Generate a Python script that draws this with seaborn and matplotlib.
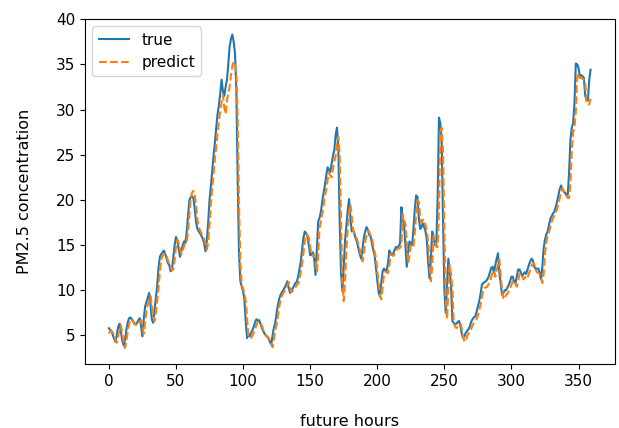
import matplotlib
matplotlib.use("Agg")
import matplotlib.pyplot as plt
import numpy as np
import seaborn as sns

# PM2.5 concentration per hour
true_vals = [
    5.8, 5.6, 5.5, 5.0, 4.6, 4.3, 5.2, 6.0, 6.3, 5.4, 4.4, 3.9, 4.5, 5.6, 6.4, 6.9, 7.0, 6.8, 6.6, 6.3,
    6.2, 6.4, 6.7, 6.9, 6.0, 4.9, 6.8, 8.2, 8.7, 9.2, 9.7, 8.5, 6.8, 6.4, 7.8, 9.2, 10.5, 12.5, 13.7, 14.0,
    14.2, 14.4, 14.0, 13.5, 13.0, 12.8, 12.1, 12.3, 13.6, 15.0, 15.9, 15.5, 14.6, 13.7, 14.3, 15.0, 15.4, 15.2, 16.5, 18.2,
    20.0, 20.3, 20.4, 20.2, 19.0, 17.5, 16.8, 16.5, 16.3, 16.0, 15.7, 15.2, 14.3, 15.5, 17.5, 20.0, 21.5, 23.2, 24.9, 26.3,
    28.0, 29.5, 30.5, 31.8, 33.3, 32.0, 31.5, 32.5, 33.3, 35.0, 37.0, 37.8, 38.3, 37.5, 36.2, 32.0, 22.0, 14.0, 11.0, 10.4,
    9.9, 9.0, 6.5, 4.7, 5.2, 4.9, 5.3, 5.6, 6.0, 6.5, 6.8, 6.6, 6.7, 6.3, 5.8, 5.5, 5.2, 5.0, 4.9, 4.7,
    4.3, 4.0, 5.0, 5.9, 6.4, 7.5, 8.4, 9.1, 9.5, 9.8, 10.0, 10.3, 10.6, 11.0, 10.3, 9.7, 10.0, 10.2, 10.5, 10.8,
    10.9, 11.5, 12.3, 13.2, 14.5, 15.8, 16.5, 16.3, 16.0, 15.0, 13.9, 13.9, 14.2, 13.5, 11.7, 14.5, 17.6, 18.0, 18.7, 19.8,
    20.8, 21.6, 22.7, 23.6, 23.3, 23.1, 24.0, 24.9, 25.5, 27.2, 28.0, 25.6, 17.6, 12.0, 9.9, 12.5, 15.5, 17.2, 18.8, 20.1,
    18.0, 16.5, 16.8, 16.2, 15.7, 15.3, 14.6, 14.0, 13.5, 14.5, 15.8, 16.5, 17.0, 16.7, 16.1, 16.0, 15.2, 14.5, 13.9, 12.5,
    11.0, 9.8, 9.3, 10.8, 12.1, 12.4, 12.2, 12.1, 13.0, 14.4, 14.1, 13.9, 14.1, 14.5, 14.8, 14.7, 14.9, 15.2, 19.2, 18.0,
    17.2, 15.0, 12.6, 14.2, 15.4, 15.2, 15.0, 16.8, 19.0, 20.5, 20.3, 18.0, 16.8, 17.0, 17.4, 17.0, 16.5, 15.5, 13.0, 11.3,
    13.5, 16.5, 15.8, 15.0, 15.0, 20.1, 29.1, 28.5, 26.7, 18.0, 10.2, 7.5, 10.5, 13.5, 12.0, 10.6, 6.6, 6.4, 6.2, 6.3,
    6.5, 6.6, 6.0, 5.2, 4.7, 4.9, 5.3, 5.5, 5.7, 6.0, 6.5, 6.8, 7.0, 7.1, 7.6, 8.2, 8.8, 9.6, 10.6, 10.8,
    10.9, 11.0, 11.2, 11.5, 12.0, 12.5, 12.6, 11.9, 12.8, 13.5, 14.1, 12.0, 10.8, 9.5, 9.7, 10.0, 10.0, 10.3, 10.6, 11.0,
    11.5, 11.5, 11.0, 10.8, 11.5, 12.3, 12.3, 12.0, 11.6, 11.8, 12.0, 11.8, 12.3, 12.8, 13.2, 13.5, 13.3, 12.6, 12.4, 12.4,
    12.4, 12.0, 11.2, 12.5, 14.6, 15.6, 16.2, 16.5, 17.2, 17.9, 18.2, 18.5, 18.7, 19.2, 19.8, 20.5, 21.2, 21.6, 21.2, 20.9,
    20.8, 20.5, 20.6, 23.1, 26.7, 28.0, 28.5, 30.7, 35.1, 35.0, 34.6, 33.7, 33.8, 33.7, 33.5, 31.5, 31.1, 31.0, 33.3, 34.4,
]

pred_vals = [
    5.2, 5.5, 5.4, 5.3, 4.9, 4.5, 4.2, 5.0, 5.8, 6.1, 5.2, 4.2, 3.6, 4.3, 5.4, 6.2, 6.7, 6.8, 6.6, 6.4,
    6.2, 6.1, 6.3, 6.5, 6.7, 5.9, 5.2, 6.4, 7.8, 8.4, 8.9, 9.4, 8.4, 7.0, 6.6, 7.5, 8.9, 10.2, 12.1, 13.4,
    13.8, 14.0, 14.1, 13.8, 13.3, 12.9, 12.6, 12.2, 12.3, 13.4, 14.8, 15.6, 15.3, 14.6, 14.0, 14.3, 14.9, 15.3, 15.3, 16.5,
    18.3, 20.2, 20.8, 21.0, 20.6, 19.4, 17.8, 17.0, 16.6, 16.3, 16.0, 15.7, 15.2, 14.5, 15.3, 17.2, 19.6, 21.2, 22.9, 24.5,
    25.8, 27.4, 28.8, 29.8, 30.8, 31.6, 30.2, 29.5, 31.0, 31.8, 32.5, 33.8, 34.8, 35.3, 35.0, 34.0, 29.0, 19.5, 13.0, 10.6,
    10.2, 9.7, 8.8, 6.8, 4.9, 4.8, 4.7, 5.0, 5.3, 5.7, 6.2, 6.5, 6.4, 6.4, 6.1, 5.6, 5.3, 5.0, 4.8, 4.6,
    4.5, 4.1, 3.7, 4.6, 5.6, 6.2, 7.2, 8.2, 9.0, 9.4, 9.7, 9.9, 10.2, 10.5, 10.9, 10.3, 9.8, 9.9, 10.1, 10.3,
    10.6, 10.7, 11.2, 12.0, 12.9, 14.1, 15.4, 16.2, 16.1, 15.8, 14.9, 13.9, 13.8, 14.0, 13.4, 12.0, 14.0, 16.9, 17.6, 18.4,
    19.4, 20.4, 21.2, 22.2, 23.0, 22.7, 22.5, 23.4, 24.3, 24.9, 26.3, 27.0, 25.0, 18.0, 11.0, 8.8, 11.0, 14.5, 16.8, 18.5,
    19.5, 18.2, 16.6, 16.3, 16.0, 15.6, 15.1, 14.5, 13.8, 13.2, 14.0, 15.3, 16.1, 16.6, 16.5, 16.0, 15.8, 15.0, 14.3, 13.6,
    12.3, 10.8, 9.5, 9.0, 10.3, 11.7, 12.1, 12.0, 11.9, 12.7, 14.0, 13.9, 13.8, 14.0, 14.3, 14.6, 14.6, 14.7, 15.0, 18.4,
    17.8, 17.3, 15.3, 13.0, 13.8, 15.0, 15.0, 14.8, 16.4, 18.5, 20.0, 19.8, 18.0, 17.5, 17.8, 17.8, 17.2, 16.5, 15.3, 12.8,
    11.0, 12.8, 16.0, 15.6, 14.8, 14.8, 19.0, 27.5, 28.0, 25.5, 17.0, 9.5, 6.8, 10.0, 12.8, 11.8, 10.2, 6.3, 6.0, 5.8,
    6.0, 6.2, 6.3, 5.8, 4.9, 4.3, 4.4, 4.9, 5.2, 5.4, 5.7, 6.1, 6.4, 6.6, 6.8, 7.2, 7.8, 8.4, 9.2, 10.1,
    10.3, 10.3, 10.4, 10.7, 11.0, 11.5, 12.0, 12.2, 11.5, 12.2, 12.9, 13.4, 11.6, 10.2, 9.0, 9.1, 9.5, 9.6, 9.9, 10.2,
    10.6, 11.0, 11.1, 10.7, 10.4, 11.0, 11.8, 11.9, 11.6, 11.2, 11.4, 11.6, 11.4, 11.8, 12.3, 12.7, 13.0, 12.9, 12.3, 12.0,
    11.9, 11.8, 11.5, 10.8, 11.8, 14.0, 15.3, 16.0, 16.4, 17.0, 17.6, 18.0, 18.3, 18.6, 19.0, 19.5, 20.2, 20.9, 21.3, 21.0,
    20.6, 20.5, 20.2, 20.2, 22.0, 25.5, 27.5, 28.0, 29.8, 33.5, 34.0, 33.5, 33.5, 33.4, 33.3, 33.0, 30.8, 30.5, 30.6, 31.2,
]

hours = np.arange(len(true_vals))

plt.rcParams["font.size"] = 11

fig, ax = plt.subplots(figsize=(6.19, 4.28), dpi=100)
fig.subplots_adjust(left=0.137, right=0.993, top=0.956, bottom=0.150)

sns.lineplot(x=hours, y=true_vals, ax=ax, color="C0", label="true")
sns.lineplot(x=hours, y=pred_vals, ax=ax, color="C1", linestyle="--", label="predict")

ax.set_xticks([0, 50, 100, 150, 200, 250, 300, 350])
ax.set_yticks([5, 10, 15, 20, 25, 30, 35, 40])
ax.set_xlabel("future hours", fontsize=11.5, labelpad=18)
ax.set_ylabel("PM2.5 concentration", fontsize=11.5, labelpad=17)
ax.legend(loc="upper left", fontsize=11)

plt.savefig("out.png")
